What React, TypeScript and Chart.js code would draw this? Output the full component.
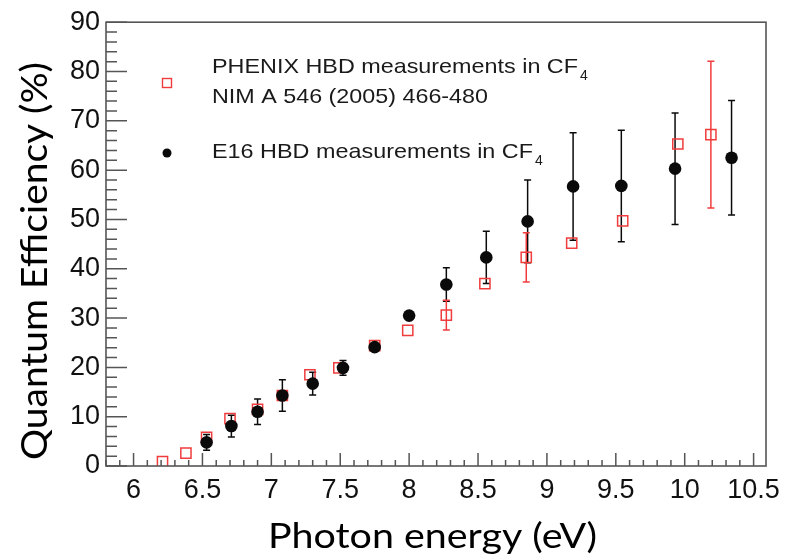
import { useEffect, useRef } from "react";
import { Chart, registerables } from "chart.js";

Chart.register(...registerables);

// PHENIX HBD measurements in CF4 (NIM A 546 (2005) 466-480)
const phenixEnergy = [6.21, 6.38, 6.53, 6.70, 6.90, 7.08, 7.28, 7.49, 7.75, 7.99, 8.27, 8.55, 8.85, 9.18, 9.55, 9.95, 10.19];
const phenixQE = [0.9, 2.6, 5.8, 9.6, 11.5, 14.3, 18.5, 19.9, 24.4, 27.5, 30.6, 37.0, 42.3, 45.2, 49.7, 65.3, 67.2];
const phenixErr = [0, 0, 0, 0, 0, 0, 0, 0, 0, 0, 3.0, 0, 5.0, 0, 0, 0, 14.9];

// E16 HBD measurements in CF4
const e16Energy = [6.53, 6.71, 6.90, 7.08, 7.30, 7.52, 7.75, 8.00, 8.27, 8.56, 8.86, 9.19, 9.54, 9.93, 10.34];
const e16QE = [4.8, 8.1, 11.0, 14.3, 16.7, 19.9, 24.1, 30.5, 36.8, 42.3, 49.6, 56.7, 56.8, 60.3, 62.5];
const e16Err = [1.6, 2.2, 2.6, 3.2, 2.3, 1.5, 0.7, 0.7, 3.4, 5.3, 8.4, 10.9, 11.3, 11.3, 11.6];

const xTickValues = [6, 6.5, 7, 7.5, 8, 8.5, 9, 9.5, 10, 10.5];
const yTickValues = [0, 10, 20, 30, 40, 50, 60, 70, 80, 90];

const X_MIN = 5.8;
const X_MAX = 10.59;
const Y_MIN = 0;
const Y_MAX = 90;

const RED = "#f03c3c";
const BLACK = "#0a0a0a";
const FRAME = "#555555";
const TEXT = "#111111";

const errorBarPlugin = {
  id: "errorBars",
  beforeDatasetsDraw(chart: any) {
    const ctx = chart.ctx;
    const xs = chart.scales.x;
    const ys = chart.scales.y;
    const area = chart.chartArea;
    ctx.save();
    ctx.beginPath();
    ctx.rect(area.left, area.top, area.right - area.left, area.bottom - area.top);
    ctx.clip();
    chart.data.datasets.forEach((ds: any) => {
      const errs: number[] = ds.errors || [];
      ctx.strokeStyle = ds.errorColor;
      ctx.lineWidth = 1.5;
      ds.data.forEach((p: any, j: number) => {
        const e = errs[j];
        if (!e) return;
        const x = xs.getPixelForValue(p.x);
        const y1 = ys.getPixelForValue(p.y + e);
        const y2 = ys.getPixelForValue(p.y - e);
        ctx.beginPath();
        ctx.moveTo(x, y1);
        ctx.lineTo(x, y2);
        ctx.moveTo(x - 3.5, y1);
        ctx.lineTo(x + 3.5, y1);
        ctx.moveTo(x - 3.5, y2);
        ctx.lineTo(x + 3.5, y2);
        ctx.stroke();
      });
    });
    ctx.restore();
  },
};

function fitText(ctx: CanvasRenderingContext2D, text: string, x: number, y: number, targetWidth: number) {
  const w = ctx.measureText(text).width;
  const s = targetWidth / w;
  ctx.save();
  ctx.translate(x, y);
  ctx.scale(s, 1);
  ctx.fillText(text, 0, 0);
  ctx.restore();
  return x + w * s;
}

const framePlugin = {
  id: "frameAndDecor",
  afterDraw(chart: any) {
    const ctx = chart.ctx as CanvasRenderingContext2D;
    const xs = chart.scales.x;
    const ys = chart.scales.y;
    const a = chart.chartArea;
    ctx.save();
    // inward ticks
    ctx.strokeStyle = FRAME;
    ctx.lineWidth = 1.5;
    ctx.beginPath();
    for (let i = 0; i <= 50; i++) {
      const v = 5.8 + i * 0.1;
      if (v > X_MAX + 1e-6) break;
      const px = xs.getPixelForValue(v);
      const major = xTickValues.some((t) => Math.abs(t - v) < 1e-6);
      const len = major ? 13 : 6;
      ctx.moveTo(px, a.bottom);
      ctx.lineTo(px, a.bottom - len);
    }
    for (let v = Y_MIN; v <= Y_MAX; v += 2) {
      const py = ys.getPixelForValue(v);
      const major = yTickValues.includes(v);
      const len = major ? 21 : 11;
      ctx.moveTo(a.left, py);
      ctx.lineTo(a.left + len, py);
    }
    ctx.stroke();
    // frame
    ctx.lineWidth = 1.6;
    ctx.strokeRect(a.left, a.top, a.right - a.left, a.bottom - a.top);

    // legend
    ctx.strokeStyle = RED;
    ctx.lineWidth = 1.4;
    ctx.strokeRect(162.5, 78.5, 9, 9);
    ctx.fillStyle = BLACK;
    ctx.beginPath();
    ctx.arc(167, 153, 4.5, 0, Math.PI * 2);
    ctx.fill();

    ctx.fillStyle = "#1a1a1a";
    ctx.textBaseline = "alphabetic";
    ctx.textAlign = "left";
    ctx.font = "21px 'Liberation Sans', Arial, sans-serif";
    let end = fitText(ctx, "PHENIX HBD measurements in CF", 212, 73, 366);
    ctx.font = "14px 'Liberation Sans', Arial, sans-serif";
    ctx.fillText("4", end + 2, 80);
    ctx.font = "21px 'Liberation Sans', Arial, sans-serif";
    fitText(ctx, "NIM A 546 (2005) 466-480", 212, 103, 276);
    end = fitText(ctx, "E16 HBD measurements in CF", 212, 158, 321);
    ctx.font = "14px 'Liberation Sans', Arial, sans-serif";
    ctx.fillText("4", end + 2, 165);

    // axis titles
    ctx.fillStyle = "#000000";
    ctx.font = "34px Lato, 'Open Sans', sans-serif";
    fitText(ctx, "Photon energy (eV)", 268, 548, 329);
    ctx.save();
    ctx.translate(47, 460);
    ctx.rotate(-Math.PI / 2);
    ctx.font = "36px Lato, 'Open Sans', sans-serif";
    fitText(ctx, "Quantum Efficiency (%)", 0, 0, 398);
    ctx.restore();
    ctx.restore();
  },
};

export default function App() {
  const ref = useRef<HTMLCanvasElement | null>(null);
  useEffect(() => {
    document.body.style.margin = "0";
    const canvas = ref.current;
    if (!canvas) return;
    const chart = new Chart(canvas, {
      type: "scatter",
      data: {
        datasets: [
          {
            label: "E16 HBD measurements in CF4",
            data: e16Energy.map((x, i) => ({ x, y: e16QE[i] })),
            errors: e16Err,
            errorColor: BLACK,
            pointStyle: "circle",
            pointRadius: 6.3,
            pointBackgroundColor: BLACK,
            pointBorderColor: BLACK,
            pointBorderWidth: 0,
            order: 0,
          } as any,
          {
            label: "PHENIX HBD measurements in CF4",
            data: phenixEnergy.map((x, i) => ({ x, y: phenixQE[i] })),
            errors: phenixErr,
            errorColor: RED,
            pointStyle: "rect",
            pointRadius: 7.2,
            pointBackgroundColor: "rgba(0,0,0,0)",
            pointBorderColor: RED,
            pointBorderWidth: 1.5,
            order: 1,
          } as any,
        ],
      },
      options: {
        animation: false,
        responsive: false,
        maintainAspectRatio: false,
        layout: { padding: { top: 21, right: 37, left: 0, bottom: 0 } },
        plugins: { legend: { display: false }, tooltip: { enabled: false } },
        scales: {
          x: {
            type: "linear",
            min: X_MIN,
            max: X_MAX,
            afterBuildTicks: (s: any) => {
              s.ticks = xTickValues.map((v) => ({ value: v }));
            },
            afterFit: (s: any) => {
              s.height = 94;
            },
            grid: { display: false, drawTicks: false },
            border: { display: false },
            ticks: {
              padding: 8,
              color: TEXT,
              font: { family: "'Liberation Sans', Arial, sans-serif", size: 27 },
              callback: (v: any) => String(v),
              maxRotation: 0,
              autoSkip: false,
            },
          },
          y: {
            type: "linear",
            min: Y_MIN,
            max: Y_MAX,
            afterBuildTicks: (s: any) => {
              s.ticks = yTickValues.map((v) => ({ value: v }));
            },
            afterFit: (s: any) => {
              s.width = 106;
            },
            grid: { display: false, drawTicks: false },
            border: { display: false },
            ticks: {
              padding: 6,
              color: TEXT,
              font: { family: "'Liberation Sans', Arial, sans-serif", size: 27 },
              callback: (v: any) => String(v),
              autoSkip: false,
            },
          },
        },
      },
      plugins: [errorBarPlugin, framePlugin],
    });
    return () => chart.destroy();
  }, []);
  return (
    <canvas ref={ref} width={803} height={560} style={{ display: "block", width: 803, height: 560 }} />
  );
}
